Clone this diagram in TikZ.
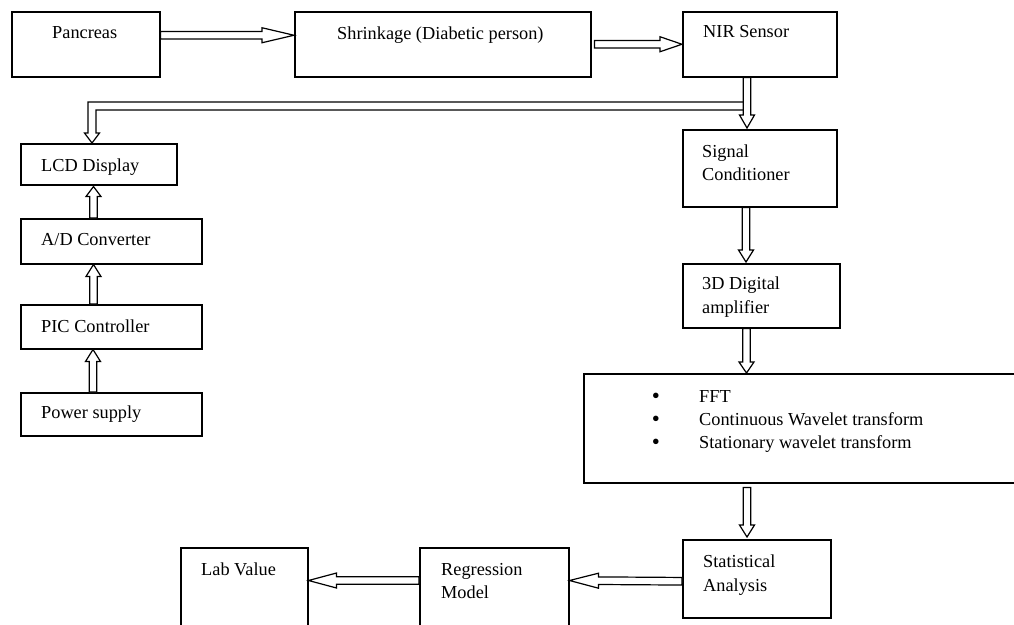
\documentclass[tikz,border=0pt]{standalone}
\usepackage{fontspec}
\setmainfont{Liberation Serif}
\usetikzlibrary{calc}
\tikzset{
  box/.style={draw, line width=1.5pt, rectangle, inner sep=0pt, anchor=north west},
  txt/.style={anchor=base west, inner sep=0pt, font=\fontsize{18.3}{23.5}\selectfont},
  bul/.style={anchor=base, inner sep=0pt, font=\fontsize{23}{23}\selectfont},
  arrline/.style={draw, line width=1.2pt, fill=white, line join=miter},
}
\newcommand\barrow[3][12]{%
  \coordinate (bS) at (#2);
  \coordinate (bT) at (#3);
  \coordinate (bN) at ($(bT)!#1pt!(bS)$);
  \draw[arrline] ($(bS)!3.8pt!90:(bT)$) -- ($(bN)!3.8pt!90:(bT)$) -- ($(bN)!7.5pt!90:(bT)$) -- (bT)
     -- ($(bN)!7.5pt!-90:(bT)$) -- ($(bN)!3.8pt!-90:(bT)$) -- ($(bS)!3.8pt!-90:(bT)$) -- cycle;
}
\begin{document}
\begin{tikzpicture}[x=1pt,y=-1pt]
\useasboundingbox (0,0) rectangle (1014,624);
\clip (0,0) rectangle (1014,624);
% boxes
\node[box, minimum width=148pt, minimum height=65pt] (pan) at (11,11) {};
\node[box, minimum width=296pt, minimum height=65pt] (shr) at (294,11) {};
\node[box, minimum width=154pt, minimum height=65pt] (nir) at (682,11) {};
\node[box, minimum width=154pt, minimum height=77pt] (sig) at (682,129) {};
\node[box, minimum width=157pt, minimum height=64pt] (dig) at (682,263) {};
\node[box, minimum width=440pt, minimum height=109pt] (fft) at (583,373) {};
\node[box, minimum width=148pt, minimum height=78pt] (stat) at (682,539) {};
\node[box, minimum width=149pt, minimum height=90pt] (reg) at (419,547) {};
\node[box, minimum width=127pt, minimum height=90pt] (lab) at (180,547) {};
\node[box, minimum width=156pt, minimum height=41pt] (lcd) at (20,143) {};
\node[box, minimum width=181pt, minimum height=45pt] (ad) at (20,218) {};
\node[box, minimum width=181pt, minimum height=44pt] (pic) at (20,304) {};
\node[box, minimum width=181pt, minimum height=43pt] (pow) at (20,392) {};
% texts
\node[txt] (tpan) at (52,38) {Pancreas};
\node[txt] (tshr) at (337,39) {Shrinkage (Diabetic person)};
\node[txt] (tnir) at (703,37) {NIR Sensor};
\node[txt] (tsig1) at (702,157) {Signal};
\node[txt] (tsig2) at (702,180) {Conditioner};
\node[txt] (tdig1) at (702,289) {3D Digital};
\node[txt] (tdig2) at (702,313) {amplifier};
\node[bul] (b1) at (656,403) {•};
\node[txt] (tf1) at (699,402) {FFT};
\node[bul] (b2) at (656,426) {•};
\node[txt] (tf2) at (699,425) {Continuous Wavelet transform};
\node[bul] (b3) at (656,449) {•};
\node[txt] (tf3) at (699,448) {Stationary wavelet transform};
\node[txt] (tstat1) at (703,567) {Statistical};
\node[txt] (tstat2) at (703,591) {Analysis};
\node[txt] (treg1) at (441,575) {Regression};
\node[txt] (treg2) at (441,598) {Model};
\node[txt] (tlab) at (201,575) {Lab Value};
\node[txt] (tlcd) at (41,171) {LCD Display};
\node[txt] (tad) at (41,245) {A/D Converter};
\node[txt] (tpic) at (41,332) {PIC Controller};
\node[txt] (tpow) at (41,418) {Power supply};
% feedback line NIR -> LCD
\coordinate (fbA) at (743.2,102);
\coordinate (fbB) at (743.2,110);
\coordinate (fbT) at ($(lcd.north west)+(72,0)$);
\draw[arrline, fill=none] (fbA) -- (88,102) -- (88,133) -- (84.5,133) -- (fbT)
   -- (99.5,133) -- (96,133) -- (96,110) -- (fbB);
% arrows
\barrow[32]{$(pan.east)+(0,-9)$}{$(shr.west)+(0,-9)$}
\barrow[22]{$(shr.east)+(3,0)$}{$(nir.west)$}
\barrow[13]{$(nir.south west)+(65,0)$}{$(sig.north west)+(65,-1)$}
\barrow[12]{$(sig.south west)+(64,0)$}{$(dig.north west)+(64,-1)$}
\barrow[11]{$(dig.south west)+(64.5,0)$}{$(fft.north west)+(163.5,0)$}
\barrow[12]{$(fft.south west)+(164,4)$}{$(stat.north west)+(65,-2)$}
\barrow[29]{$(stat.west)+(0,2.5)$}{$(reg.north east)+(0,33.5)$}
\barrow[28]{$(reg.north west)+(0,33.5)$}{$(lab.north east)+(0,33.5)$}
\barrow[10]{$(ad.north west)+(73.5,0)$}{$(lcd.south west)+(73.5,1)$}
\barrow[12]{$(pic.north west)+(73.5,0)$}{$(ad.south west)+(73.5,0)$}
\barrow[12]{$(pow.north west)+(73,0)$}{$(pic.south west)+(73,0)$}
\end{tikzpicture}
\end{document}
